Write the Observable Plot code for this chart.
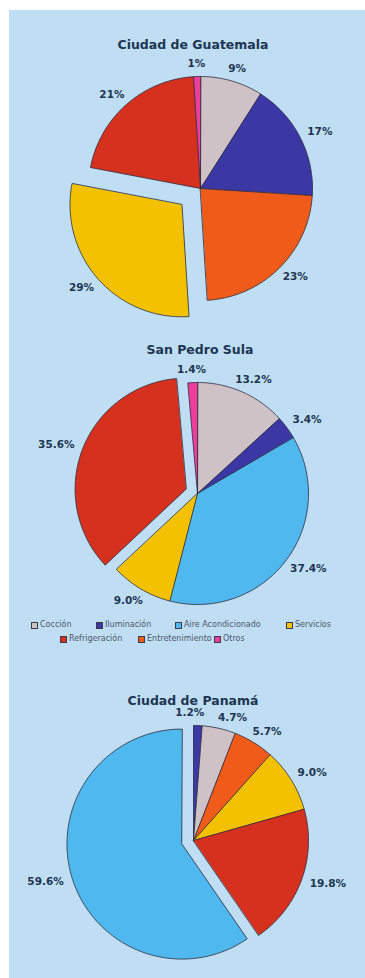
<!DOCTYPE html>
<html><head><meta charset="utf-8">
<script src="https://cdn.jsdelivr.net/npm/d3@7"></script>
<script src="https://cdn.jsdelivr.net/npm/@observablehq/plot@0.6"></script>
<style>
body{margin:0;background:#fff;width:365px;height:978px;overflow:hidden;position:relative;font-family:"DejaVu Sans",sans-serif}
#panel{position:absolute;left:9px;top:10px;width:356px;height:968px;background:#bfdef3}
.title{position:absolute;font-weight:bold;font-size:12.5px;color:#1d3552;white-space:nowrap;transform:translate(-50%,-50%);line-height:1}
.pie{position:absolute;left:0}
.pie svg{background:transparent !important;overflow:visible}
.leg{position:absolute;font-size:8px;color:#4e5668;white-space:nowrap;transform:translateY(-50%);display:flex;align-items:center;line-height:1}
.sw{display:inline-block;width:5px;height:5px;border:1px solid #3a3a4a;margin-right:2px}
</style></head><body>
<div id="panel"></div>
<script>
// ---- data ----
const categories = ["Cocción","Iluminación","Aire Acondicionado","Servicios","Refrigeración","Entretenimiento","Otros"];
const colors = ["#cfc2c6","#3b38a6","#4fb9ef","#f3c100","#d6311f","#f05b1a","#ec3f9b"];
const cities = ["Ciudad de Guatemala","San Pedro Sula","Ciudad de Panamá"];
const guatemalaCats = ["Cocción","Iluminación","Entretenimiento","Servicios","Refrigeración","Otros"];
const guatemalaValues = [9,17,23,29,21,1];
const sanPedroCats = ["Cocción","Iluminación","Aire Acondicionado","Servicios","Refrigeración","Otros"];
const sanPedroValues = [13.2,3.4,37.4,9.0,35.6,1.4];
const panamaCats = ["Iluminación","Cocción","Entretenimiento","Servicios","Refrigeración","Aire Acondicionado"];
const panamaValues = [1.2,4.7,5.7,9.0,19.8,59.6];

// ---- layout ----
const W = 365;
const pies = [
  {cats: guatemalaCats, values: guatemalaValues, fmt: d3.format(".0f"), explode: "Servicios", off: 0.22,
   top: 60, h: 270, cx: 200, cy: 128, r: 112, tx: 193, ty: 45},
  {cats: sanPedroCats, values: sanPedroValues, fmt: d3.format(".1f"), explode: "Refrigeración", off: 0.11,
   top: 360, h: 250, cx: 197, cy: 133, r: 111, tx: 200, ty: 350},
  {cats: panamaCats, values: panamaValues, fmt: d3.format(".1f"), explode: "Aire Acondicionado", off: 0.105,
   top: 712, h: 266, cx: 193, cy: 128, r: 115, tx: 193, ty: 701}
];
const colorOf = c => colors[categories.indexOf(c)];

pies.forEach((p, idx) => {
  const t = document.createElement("div");
  t.className = "title";
  t.style.left = p.tx + "px"; t.style.top = p.ty + "px";
  t.textContent = cities[idx];
  document.body.appendChild(t);

  const total = d3.sum(p.values);
  let acc = 0;
  const slices = p.cats.map((c, i) => {
    const a0 = acc / total * 2 * Math.PI; acc += p.values[i];
    const a1 = acc / total * 2 * Math.PI;
    return {cat: c, value: p.values[i], a0, a1, mid: (a0 + a1) / 2,
            off: c === p.explode ? p.off : 0, color: colorOf(c)};
  });
  const pts = slices.flatMap(s => {
    const ox = s.off * Math.sin(s.mid), oy = s.off * Math.cos(s.mid);
    const n = Math.max(2, Math.ceil((s.a1 - s.a0) / (Math.PI / 180)));
    const arr = [{cat: s.cat, color: s.color, x: ox, y: oy}];
    for (let k = 0; k <= n; k++) {
      const a = s.a0 + (s.a1 - s.a0) * k / n;
      arr.push({cat: s.cat, color: s.color, x: ox + Math.sin(a), y: oy + Math.cos(a)});
    }
    return arr;
  });

  // label placement (pixels), with a simple relaxation to avoid crowding
  const lab = s => p.fmt(s.value) + "%";
  const L = slices.map(s => ({s, text: lab(s), th: s.mid, w: lab(s).length * 7, D: p.r + 13 + s.off * p.r}));
  const posOf = l => ({x: l.D * Math.sin(l.th) + Math.sin(l.th) * l.w / 2 * 0.85, y: l.D * Math.cos(l.th)});
  for (let it = 0; it < 600; it++) {
    let moved = false;
    for (let i = 0; i < L.length; i++) {
      const j = (i + 1) % L.length;
      const a = posOf(L[i]), b = posOf(L[j]);
      if (Math.abs(a.x - b.x) < (L[i].w + L[j].w) / 2 + 14 && Math.abs(a.y - b.y) < 14) {
        L[i].th -= 0.004; L[j].th += 0.004; moved = true;
      }
    }
    if (!moved) break;
  }
  const labels = L.map(l => { const q = posOf(l); return {text: l.text, x: q.x / p.r, y: q.y / p.r}; });

  const plot = Plot.plot({
    width: W, height: p.h, margin: 0,
    x: {domain: [-p.cx / p.r, (W - p.cx) / p.r], axis: null},
    y: {domain: [-(p.h - p.cy) / p.r, p.cy / p.r], axis: null},
    color: {type: "identity"},
    style: {background: "transparent", overflow: "visible"},
    marks: [
      Plot.line(pts, {x: "x", y: "y", z: "cat", fill: "color", stroke: "#2b2b3c", strokeWidth: 0.8, curve: "linear-closed"}),
      Plot.text(labels, {
        x: "x", y: "y", text: "text", fill: "#1d3552", fontWeight: "bold", fontSize: 10.5,
        fontFamily: "DejaVu Sans", textAnchor: "middle"
      })
    ]
  });
  const holder = document.createElement("div");
  holder.className = "pie";
  holder.style.top = p.top + "px";
  holder.appendChild(plot);
  document.body.appendChild(holder);
});

// ---- legend ----
const legendRows = [
  {y: 625, items: [["Cocción", 31], ["Iluminación", 96], ["Aire Acondicionado", 175], ["Servicios", 286]]},
  {y: 639, items: [["Refrigeración", 60], ["Entretenimiento", 138], ["Otros", 214]]}
];
legendRows.forEach(row => row.items.forEach(([c, x]) => {
  const d = document.createElement("div");
  d.className = "leg";
  d.style.left = x + "px"; d.style.top = row.y + "px";
  const sw = document.createElement("span");
  sw.className = "sw"; sw.style.background = colorOf(c);
  d.appendChild(sw);
  d.appendChild(document.createTextNode(c));
  document.body.appendChild(d);
}));
</script>
</body></html>
